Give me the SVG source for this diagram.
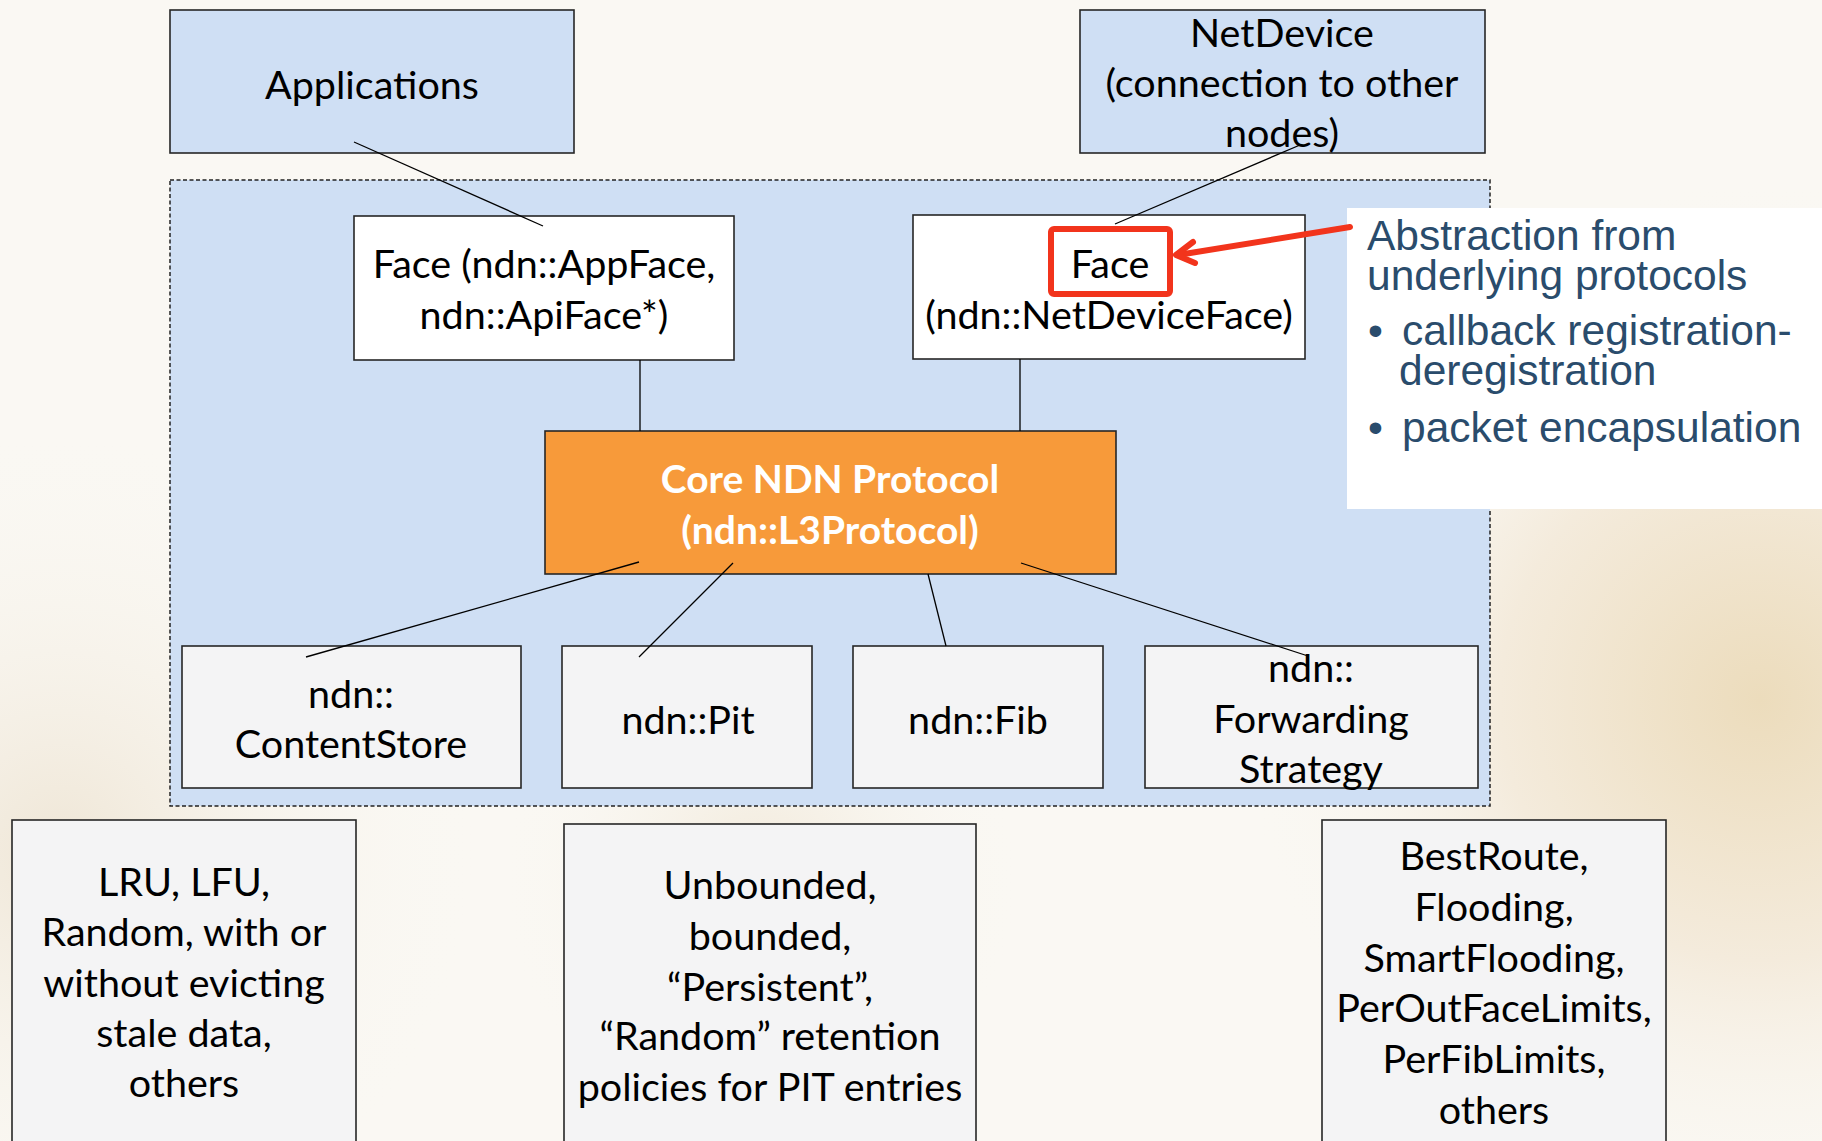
<svg xmlns="http://www.w3.org/2000/svg" width="1822" height="1141" viewBox="0 0 1822 1141">
<defs>
<radialGradient id="bgR" cx="1760" cy="700" r="520" gradientUnits="userSpaceOnUse">
<stop offset="0" stop-color="#ecdcbc"/>
<stop offset="0.5" stop-color="#f4ebdc"/>
<stop offset="1" stop-color="#faf8f3" stop-opacity="0"/>
</radialGradient>
<radialGradient id="bgL" cx="60" cy="850" r="420" gradientUnits="userSpaceOnUse">
<stop offset="0" stop-color="#efe6d6"/>
<stop offset="1" stop-color="#faf8f3" stop-opacity="0"/>
</radialGradient>
<radialGradient id="bgM" cx="760" cy="880" r="260" gradientUnits="userSpaceOnUse">
<stop offset="0" stop-color="#f1e8d8"/>
<stop offset="1" stop-color="#faf8f3" stop-opacity="0"/>
</radialGradient>
<style>
.box{stroke:#262626;stroke-width:1.6}
.blue{fill:#cfdff4}
.white{fill:#ffffff}
.grey{fill:#f4f4f5}
.t{font-family:Lato,"Open Sans","Liberation Sans",sans-serif;font-size:39.5px;fill:#000;text-anchor:middle}
.tb{font-family:Lato,"Open Sans","Liberation Sans",sans-serif;font-size:39px;font-weight:bold;fill:#fff;text-anchor:middle}
.c{font-family:"Liberation Sans",Arial,sans-serif;font-size:42.5px;fill:#2a4c6c}
.conn line{stroke:#000;stroke-width:1.3}
.red{fill:none;stroke:#f2341c;stroke-width:6;stroke-linecap:round;stroke-linejoin:round}
</style>
</defs>

<rect x="0" y="0" width="1822" height="1141" fill="#faf8f3"/>
<rect x="0" y="0" width="1822" height="1141" fill="url(#bgR)"/>
<rect x="0" y="0" width="1822" height="1141" fill="url(#bgL)"/>
<rect x="0" y="0" width="1822" height="1141" fill="url(#bgM)"/>

<g id="container">
<rect x="170" y="180" width="1320" height="626" fill="#cfdff4" stroke="#222" stroke-width="1.5" stroke-dasharray="4,2.5"/>
</g>

<g id="applications">
<rect class="box blue" x="170" y="10" width="404" height="143"/>
<text class="t" x="372" y="99">Applications</text>
</g>

<g id="netdevice">
<rect class="box blue" x="1080" y="10" width="405" height="143"/>
<text class="t" x="1282" y="47">NetDevice</text>
<text class="t" x="1282" y="97">(connection to other</text>
<text class="t" x="1282" y="147">nodes)</text>
</g>

<g id="face-app">
<rect class="box white" x="354" y="216" width="380" height="144"/>
<text class="t" x="544" y="278">Face (ndn::AppFace,</text>
<text class="t" x="544" y="329">ndn::ApiFace*)</text>
</g>

<g id="face-netdevice">
<rect class="box white" x="913" y="215" width="392" height="144"/>
<text class="t" x="1110" y="278">Face</text>
<text class="t" x="1109" y="329">(ndn::NetDeviceFace)</text>
</g>

<g id="core">
<rect class="box" x="545" y="431" width="571" height="143" fill="#f79a3a"/>
<text class="tb" x="830" y="493">Core NDN Protocol</text>
<text class="tb" x="830" y="544">(ndn::L3Protocol)</text>
</g>

<g id="contentstore">
<rect class="box grey" x="182" y="646" width="339" height="142"/>
<text class="t" x="351" y="708">ndn::</text>
<text class="t" x="351" y="758">ContentStore</text>
</g>

<g id="pit">
<rect class="box grey" x="562" y="646" width="250" height="142"/>
<text class="t" x="688" y="734">ndn::Pit</text>
</g>

<g id="fib">
<rect class="box grey" x="853" y="646" width="250" height="142"/>
<text class="t" x="978" y="734">ndn::Fib</text>
</g>

<g id="forwarding">
<rect class="box grey" x="1145" y="646" width="333" height="142"/>
<text class="t" x="1311" y="682">ndn::</text>
<text class="t" x="1311" y="733">Forwarding</text>
<text class="t" x="1311" y="783">Strategy</text>
</g>

<g id="cs-policies">
<rect class="box grey" x="12" y="820" width="344" height="340"/>
<text class="t" x="184" y="896">LRU, LFU,</text>
<text class="t" x="184" y="946">Random, with or</text>
<text class="t" x="184" y="997">without evicting</text>
<text class="t" x="184" y="1047">stale data,</text>
<text class="t" x="184" y="1097">others</text>
</g>

<g id="pit-policies">
<rect class="box grey" x="564" y="824" width="412" height="340"/>
<text class="t" x="770" y="899">Unbounded,</text>
<text class="t" x="770" y="950">bounded,</text>
<text class="t" x="770" y="1001">“Persistent”,</text>
<text class="t" x="770" y="1050">“Random” retention</text>
<text class="t" x="770" y="1101">policies for PIT entries</text>
</g>

<g id="strategies">
<rect class="box grey" x="1322" y="820" width="344" height="340"/>
<text class="t" x="1494" y="870">BestRoute,</text>
<text class="t" x="1494" y="921">Flooding,</text>
<text class="t" x="1494" y="972">SmartFlooding,</text>
<text class="t" x="1494" y="1022">PerOutFaceLimits,</text>
<text class="t" x="1494" y="1073">PerFibLimits,</text>
<text class="t" x="1494" y="1124">others</text>
</g>

<g id="connectors" class="conn">
<line x1="354" y1="142" x2="543" y2="226"/>
<line x1="1300" y1="145" x2="1115" y2="224"/>
<line x1="640" y1="360" x2="640" y2="431"/>
<line x1="1020" y1="359" x2="1020" y2="431"/>
<line x1="639" y1="562" x2="306" y2="657"/>
<line x1="733" y1="563" x2="639" y2="657"/>
<line x1="928" y1="574" x2="946" y2="646"/>
<line x1="1021" y1="563" x2="1308" y2="656"/>
</g>

<g id="callout">
<rect x="1347" y="208" width="475" height="301" fill="#ffffff"/>
<text class="c" x="1367" y="250">Abstraction from</text>
<text class="c" x="1367" y="290">underlying protocols</text>
<text class="c" x="1368" y="345">•</text>
<text class="c" x="1402" y="345">callback registration-</text>
<text class="c" x="1399" y="385">deregistration</text>
<text class="c" x="1368" y="442">•</text>
<text class="c" x="1402" y="442">packet encapsulation</text>
</g>

<g id="highlight">
<rect class="red" x="1051" y="229" width="119" height="65" rx="3"/>
<path class="red" d="M1350,227 L1178,255"/>
<path class="red" d="M1193,242 L1176,255 L1195,263"/>
</g>
</svg>
